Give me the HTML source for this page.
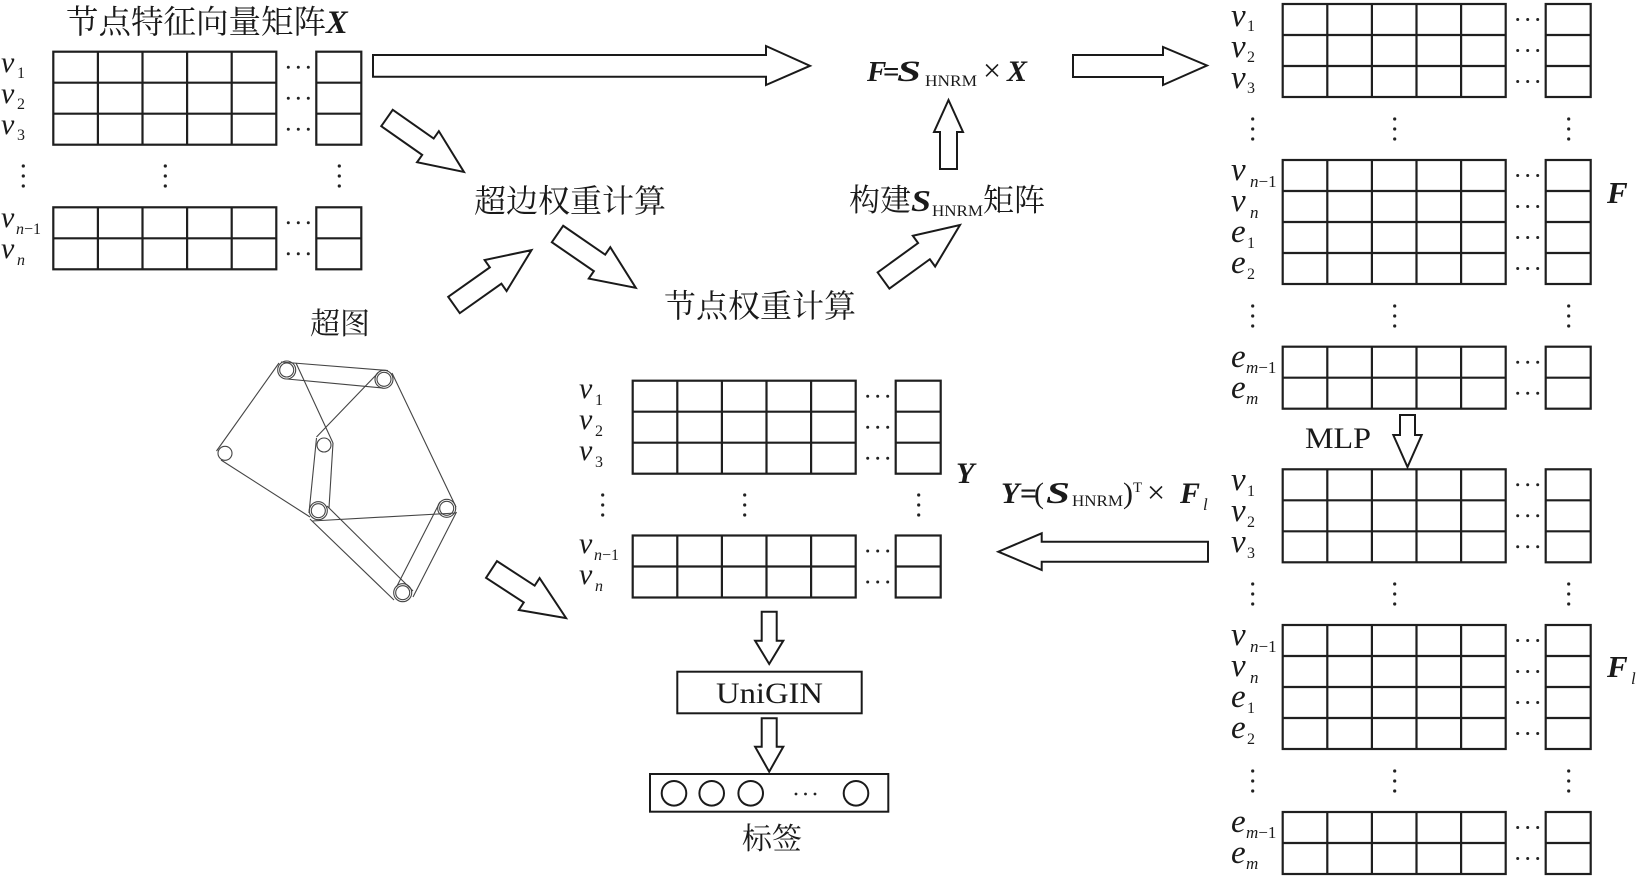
<!DOCTYPE html>
<html><head><meta charset="utf-8"><style>
html,body{margin:0;padding:0;background:#fff;}
svg{display:block;}
.cjk{font-family:"Liberation Serif","Noto Serif CJK SC",serif;fill:#1a1a1a;}
.ser{font-family:"Liberation Serif","Noto Serif CJK SC",serif;fill:#1a1a1a;}
.bi{font-family:"Liberation Serif",serif;font-style:italic;font-weight:bold;fill:#1a1a1a;}
.it{font-family:"Liberation Serif",serif;font-style:italic;fill:#1a1a1a;}
.ar{fill:#fff;stroke:#1a1a1a;stroke-width:2;stroke-linejoin:miter;}
.hg line{stroke:#444;stroke-width:1.1;}
.hg circle{fill:none;stroke:#444;stroke-width:1.1;}
</style></head><body>
<svg width="1638" height="880" viewBox="0 0 1638 880" xmlns="http://www.w3.org/2000/svg">
<defs>
<g id="b2">
 <g fill="none" stroke="#1f1f1f" stroke-width="2.2">
  <rect width="223" height="62"/><rect x="263" width="45" height="62"/>
  <path d="M44.6 0V62M89.2 0V62M133.8 0V62M178.4 0V62M0 31H223M263 31H308"/>
 </g>
 <g fill="#222"><circle cx="235" cy="15.5" r="1.5"/><circle cx="245" cy="15.5" r="1.5"/><circle cx="255" cy="15.5" r="1.5"/>
 <circle cx="235" cy="46.5" r="1.5"/><circle cx="245" cy="46.5" r="1.5"/><circle cx="255" cy="46.5" r="1.5"/></g>
</g>
<g id="b3">
 <g fill="none" stroke="#1f1f1f" stroke-width="2.2">
  <rect width="223" height="93"/><rect x="263" width="45" height="93"/>
  <path d="M44.6 0V93M89.2 0V93M133.8 0V93M178.4 0V93M0 31H223M0 62H223M263 31H308M263 62H308"/>
 </g>
 <g fill="#222"><circle cx="235" cy="15.5" r="1.5"/><circle cx="245" cy="15.5" r="1.5"/><circle cx="255" cy="15.5" r="1.5"/>
 <circle cx="235" cy="46.5" r="1.5"/><circle cx="245" cy="46.5" r="1.5"/><circle cx="255" cy="46.5" r="1.5"/>
 <circle cx="235" cy="77.5" r="1.5"/><circle cx="245" cy="77.5" r="1.5"/><circle cx="255" cy="77.5" r="1.5"/></g>
</g>
<g id="b4">
 <g fill="none" stroke="#1f1f1f" stroke-width="2.2">
  <rect width="223" height="124"/><rect x="263" width="45" height="124"/>
  <path d="M44.6 0V124M89.2 0V124M133.8 0V124M178.4 0V124M0 31H223M0 62H223M0 93H223M263 31H308M263 62H308M263 93H308"/>
 </g>
 <g fill="#222"><circle cx="235" cy="15.5" r="1.5"/><circle cx="245" cy="15.5" r="1.5"/><circle cx="255" cy="15.5" r="1.5"/>
 <circle cx="235" cy="46.5" r="1.5"/><circle cx="245" cy="46.5" r="1.5"/><circle cx="255" cy="46.5" r="1.5"/>
 <circle cx="235" cy="77.5" r="1.5"/><circle cx="245" cy="77.5" r="1.5"/><circle cx="255" cy="77.5" r="1.5"/>
 <circle cx="235" cy="108.5" r="1.5"/><circle cx="245" cy="108.5" r="1.5"/><circle cx="255" cy="108.5" r="1.5"/></g>
</g>
<g id="vd" fill="#222">
 <circle cx="-30" cy="-10" r="1.6"/><circle cx="-30" cy="0" r="1.6"/><circle cx="-30" cy="10" r="1.6"/>
 <circle cx="112" cy="-10" r="1.6"/><circle cx="112" cy="0" r="1.6"/><circle cx="112" cy="10" r="1.6"/>
 <circle cx="286" cy="-10" r="1.6"/><circle cx="286" cy="0" r="1.6"/><circle cx="286" cy="10" r="1.6"/>
</g>
</defs>

<!-- ===== Matrix X ===== -->
<text class="cjk" x="66" y="33" font-size="32.5">节点特征向量矩阵<tspan class="bi">X</tspan></text>
<use href="#b3" x="53.3" y="51.7"/>
<use href="#vd" x="53.3" y="176"/>
<use href="#b2" x="53.3" y="207.3"/>
<g font-size="30">
<text class="it" x="1" y="72">v</text><text class="ser" x="17" y="78" font-size="16">1</text>
<text class="it" x="1" y="103">v</text><text class="ser" x="17" y="109" font-size="16">2</text>
<text class="it" x="1" y="134">v</text><text class="ser" x="17" y="140" font-size="16">3</text>
<text class="it" x="1" y="227">v</text><text class="ser" x="16" y="234" font-size="16"><tspan font-style="italic">n</tspan>−1</text>
<text class="it" x="1" y="258">v</text><text class="it" x="17" y="265" font-size="16">n</text>
</g>

<!-- ===== Matrix F ===== -->
<use href="#b3" x="1282.7" y="4"/>
<use href="#vd" x="1282.7" y="129"/>
<use href="#b4" x="1282.7" y="160"/>
<use href="#vd" x="1282.7" y="316"/>
<use href="#b2" x="1282.7" y="346.7"/>
<g font-size="33">
<text class="it" x="1231" y="26">v</text><text class="ser" x="1247" y="31" font-size="16">1</text>
<text class="it" x="1231" y="57">v</text><text class="ser" x="1247" y="62" font-size="16">2</text>
<text class="it" x="1231" y="88">v</text><text class="ser" x="1247" y="93" font-size="16">3</text>
<text class="it" x="1231" y="180">v</text><text class="ser" x="1250" y="187" font-size="17"><tspan font-style="italic">n</tspan>−1</text>
<text class="it" x="1231" y="211">v</text><text class="it" x="1250" y="218" font-size="17">n</text>
<text class="it" x="1231" y="242">e</text><text class="ser" x="1247" y="248" font-size="16">1</text>
<text class="it" x="1231" y="273">e</text><text class="ser" x="1247" y="279" font-size="16">2</text>
<text class="it" x="1231" y="367">e</text><text class="ser" x="1246" y="373" font-size="17"><tspan font-style="italic">m</tspan>−1</text>
<text class="it" x="1231" y="398">e</text><text class="it" x="1246" y="404" font-size="17">m</text>
</g>
<text class="bi" x="1607" y="203" font-size="31">F</text>

<!-- ===== Matrix F_l ===== -->
<use href="#b3" x="1282.7" y="469.3"/>
<use href="#vd" x="1282.7" y="594"/>
<use href="#b4" x="1282.7" y="625"/>
<use href="#vd" x="1282.7" y="781"/>
<use href="#b2" x="1282.7" y="812"/>
<g font-size="33">
<text class="it" x="1231" y="490">v</text><text class="ser" x="1247" y="496" font-size="16">1</text>
<text class="it" x="1231" y="521">v</text><text class="ser" x="1247" y="527" font-size="16">2</text>
<text class="it" x="1231" y="552">v</text><text class="ser" x="1247" y="558" font-size="16">3</text>
<text class="it" x="1231" y="645">v</text><text class="ser" x="1250" y="652" font-size="17"><tspan font-style="italic">n</tspan>−1</text>
<text class="it" x="1231" y="676">v</text><text class="it" x="1250" y="683" font-size="17">n</text>
<text class="it" x="1231" y="707">e</text><text class="ser" x="1247" y="713" font-size="16">1</text>
<text class="it" x="1231" y="738">e</text><text class="ser" x="1247" y="744" font-size="16">2</text>
<text class="it" x="1231" y="832">e</text><text class="ser" x="1246" y="838" font-size="17"><tspan font-style="italic">m</tspan>−1</text>
<text class="it" x="1231" y="863">e</text><text class="it" x="1246" y="869" font-size="17">m</text>
</g>
<text class="bi" x="1607" y="677" font-size="31">F</text>
<text class="it" x="1631" y="684" font-size="17">l</text>

<!-- MLP -->
<text class="ser" x="1305" y="448" font-size="30" textLength="66" lengthAdjust="spacingAndGlyphs">MLP</text>
<polygon class="ar" points="1400,415 1415,415 1415,435 1421.7,435 1407.5,467 1393.3,435 1400,435"/>

<!-- ===== Matrix Y ===== -->
<use href="#b3" x="632.7" y="380.7"/>
<use href="#vd" x="632.7" y="505"/>
<use href="#b2" x="632.7" y="535.5"/>
<g font-size="30">
<text class="it" x="579" y="398">v</text><text class="ser" x="595" y="405" font-size="16">1</text>
<text class="it" x="579" y="429">v</text><text class="ser" x="595" y="436" font-size="16">2</text>
<text class="it" x="579" y="460">v</text><text class="ser" x="595" y="467" font-size="16">3</text>
<text class="it" x="579" y="553">v</text><text class="ser" x="594" y="560" font-size="16"><tspan font-style="italic">n</tspan>−1</text>
<text class="it" x="579" y="584">v</text><text class="it" x="595" y="591" font-size="16">n</text>
</g>
<text class="bi" x="956" y="483" font-size="30">Y</text>

<!-- UniGIN and labels -->
<polygon class="ar" points="761.7,611.7 776.7,611.7 776.7,640.7 783.3,640.7 769.2,664 755.1,640.7 761.7,640.7"/>
<rect x="677.3" y="671.7" width="184.4" height="41.6" fill="#fff" stroke="#1a1a1a" stroke-width="2"/>
<text class="ser" x="716" y="703" font-size="30" textLength="107" lengthAdjust="spacingAndGlyphs">UniGIN</text>
<polygon class="ar" points="761.7,718.3 776.7,718.3 776.7,746.7 783.3,746.7 769.2,771.7 755.1,746.7 761.7,746.7"/>
<rect x="650" y="774" width="238.3" height="37.7" fill="#fff" stroke="#1a1a1a" stroke-width="2"/>
<g fill="none" stroke="#1a1a1a" stroke-width="2">
<circle cx="674" cy="793.3" r="12.3"/><circle cx="711.7" cy="793.3" r="12.3"/><circle cx="750.7" cy="793.3" r="12.3"/><circle cx="856" cy="793.3" r="12.3"/>
</g>
<g fill="#222"><circle cx="796" cy="794" r="1.4"/><circle cx="805.5" cy="794" r="1.4"/><circle cx="815" cy="794" r="1.4"/></g>
<text class="cjk" x="742" y="849" font-size="30">标签</text>

<!-- ===== Top flow ===== -->
<polygon class="ar" points="373,55 766,55 766,46 810,65.8 766,85 766,76.7 373,76.7"/>
<text class="bi" x="867" y="81" font-size="29">F</text>
<text class="ser" x="883" y="81" font-size="29" font-weight="bold">=</text>
<text class="bi" x="897" y="81" font-size="30" textLength="24" lengthAdjust="spacingAndGlyphs">S</text>
<text class="ser" x="925" y="86" font-size="16" textLength="52" lengthAdjust="spacingAndGlyphs">HNRM</text>
<text class="ser" x="983" y="81" font-size="32">×</text>
<text class="bi" x="1007" y="81" font-size="30">X</text>
<polygon class="ar" points="1073,55 1163,55 1163,47 1207,65.5 1163,85 1163,77 1073,77"/>
<polygon class="ar" points="940,169 940,132 934,132 948.5,100 963,132 957,132 957,169"/>

<text class="cjk" x="849" y="211" font-size="31">构建</text>
<text class="bi" x="911" y="211" font-size="31" textLength="20" lengthAdjust="spacingAndGlyphs">S</text>
<text class="ser" x="932" y="216" font-size="16" textLength="51" lengthAdjust="spacingAndGlyphs">HNRM</text>
<text class="cjk" x="983" y="211" font-size="31">矩阵</text>

<text class="cjk" x="474" y="212" font-size="32">超边权重计算</text>
<text class="cjk" x="664" y="317" font-size="32">节点权重计算</text>
<text class="cjk" x="310" y="334" font-size="30">超图</text>

<!-- diagonal arrows -->
<polygon class="ar" transform="translate(387,118) rotate(35.04)" points="0,-10 50,-10 50,-19 94,0 50,19 50,10 0,10"/>
<polygon class="ar" transform="translate(454,305) rotate(-35.3)" points="0,-10 51,-10 51,-19 95,0 51,19 51,10 0,10"/>
<polygon class="ar" transform="translate(557.5,234) rotate(34.5)" points="0,-10 51,-10 51,-19 95,0 51,19 51,10 0,10"/>
<polygon class="ar" transform="translate(883.5,280.5) rotate(-35.96)" points="0,-10 50,-10 50,-19 94.5,0 50,19 50,10 0,10"/>
<polygon class="ar" transform="translate(491.5,569.5) rotate(33.07)" points="0,-10 45,-10 45,-19 89,0 45,19 45,10 0,10"/>

<!-- Y formula & left arrow -->
<text class="bi" x="1001" y="503" font-size="30">Y</text>
<text class="ser" x="1020" y="503" font-size="30" font-weight="bold">=</text>
<text class="ser" x="1034" y="503" font-size="30">(</text>
<text class="bi" x="1046" y="503" font-size="31" textLength="24" lengthAdjust="spacingAndGlyphs">S</text>
<text class="ser" x="1072" y="506" font-size="16" textLength="51" lengthAdjust="spacingAndGlyphs">HNRM</text>
<text class="ser" x="1123" y="503" font-size="30">)</text>
<text class="ser" x="1133" y="492" font-size="15">T</text>
<text class="ser" x="1147" y="503" font-size="32">×</text>
<text class="bi" x="1180" y="503" font-size="30">F</text>
<text class="it" x="1203" y="510" font-size="17">l</text>
<polygon class="ar" points="1208,541.7 1041.7,541.7 1041.7,533.3 998.3,551.7 1041.7,570 1041.7,561.7 1208,561.7"/>

<!-- ===== Hypergraph ===== -->
<g class="hg">
<line x1="281" y1="362" x2="388" y2="370.5"/>
<line x1="287" y1="379" x2="383" y2="388"/>
<line x1="279" y1="363" x2="216.5" y2="451"/>
<line x1="221" y1="460" x2="310" y2="517"/>
<line x1="310" y1="519" x2="394" y2="600"/>
<line x1="327" y1="506" x2="413" y2="591"/>
<line x1="296" y1="363" x2="333" y2="443"/>
<line x1="378" y1="373" x2="316.5" y2="437"/>
<line x1="316.5" y1="438" x2="309" y2="513"/>
<line x1="333" y1="443" x2="329" y2="508"/>
<line x1="312" y1="521" x2="456" y2="513"/>
<line x1="392" y1="373" x2="456" y2="507"/>
<line x1="456.5" y1="512" x2="413" y2="597"/>
<line x1="440" y1="502" x2="396.5" y2="587"/>
<circle cx="286.7" cy="370" r="7"/><circle cx="286.7" cy="370" r="9"/>
<circle cx="384" cy="379.3" r="7"/><circle cx="384" cy="379.3" r="9"/>
<circle cx="225" cy="453.3" r="7"/>
<circle cx="324" cy="445" r="7"/>
<circle cx="318.3" cy="510.7" r="7"/><circle cx="318.3" cy="510.7" r="9"/>
<circle cx="446.7" cy="508.3" r="7"/><circle cx="446.7" cy="508.3" r="9"/>
<circle cx="402.7" cy="592.7" r="7"/><circle cx="402.7" cy="592.7" r="9"/>
</g>
</svg>
</body></html>
